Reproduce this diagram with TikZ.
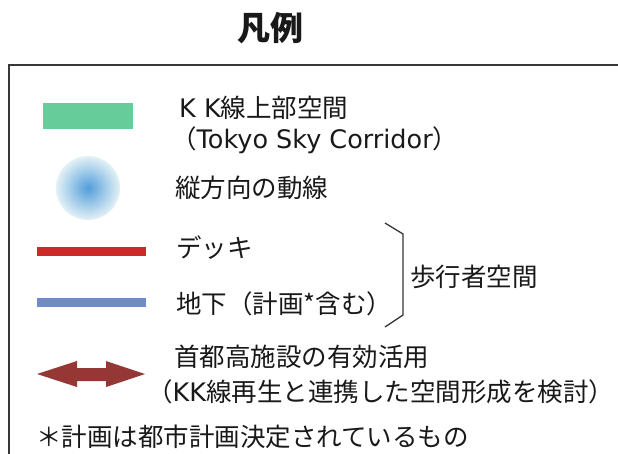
\documentclass[tikz,border=0pt]{standalone}
\usepackage{fontspec}
\setmainfont{Noto Sans CJK JP}
\newfontfamily\latfont{DejaVu Sans}
\newcommand\latn[1]{{\latfont #1}}
\definecolor{kkgreen}{RGB}{102,204,153}
\definecolor{deckred}{RGB}{204,41,41}
\definecolor{ugblue}{RGB}{111,140,200}
\definecolor{arrowred}{RGB}{149,55,53}
\definecolor{flowin}{RGB}{82,158,218}
\definecolor{flowout}{RGB}{228,241,246}
\definecolor{framegray}{RGB}{55,55,55}
\definecolor{txt}{RGB}{25,25,25}
\tikzset{
  lbl/.style={anchor=west, inner sep=0pt, font=\fontsize{25.5}{30}\selectfont, text=txt},
  legline/.style={line width=9pt},
  bracketline/.style={draw=framegray, line width=1.3pt},
}
\begin{document}
\begin{tikzpicture}[x=1pt,y=-1pt]
\useasboundingbox (0,0) rectangle (618,454);
\fill[white] (0,0) rectangle (618,454);
% frame
\draw[framegray, line width=2pt] (9,456) -- (9,65) -- (620,65);
% title
\node[font=\fontsize{33}{40}\selectfont\bfseries, text=txt] (title) at (270,28) {凡例};
% green
\fill[kkgreen] (43,103) rectangle (133,129);
\node[lbl] (kk) at (179,108) {\latn{K K}線上部空間};
\node[lbl] (tsc) at (171,140) {（\latn{Tokyo Sky Corridor}）};
% vertical flow
\shade[inner color=flowin, outer color=flowout] (88,188) circle [radius=32];
\node[lbl] (flow) at (175,188) {縦方向の動線};
% deck
\draw[deckred, legline] (37,251.5) -- (146,251.5);
\node[lbl] (deck) at (176,248) {デッキ};
% underground
\draw[ugblue, legline] (37,302.5) -- (146,302.5);
\node[lbl] (ug) at (176,304) {地下（計画*含む）};
% bracket
\draw[bracketline] (385,223) -- (403,234) -- (403,315) -- (385,327);
\node[lbl] (ped) at (410,277) {歩行者空間};
% double arrow
\fill[arrowred] (37,374) -- (77,361) -- (77,368) -- (106,368) -- (106,361) -- (145,374)
  -- (106,387) -- (106,381) -- (77,381) -- (77,387) -- cycle;
\node[lbl] (shuto) at (174,357) {首都高施設の有効活用};
\node[lbl] (kkre) at (147,392) {（\latn{KK}線再生と連携した空間形成を検討）};
% footnote
\node[lbl] (note) at (36,437) {＊計画は都市計画決定されているもの};
\end{tikzpicture}
\end{document}
